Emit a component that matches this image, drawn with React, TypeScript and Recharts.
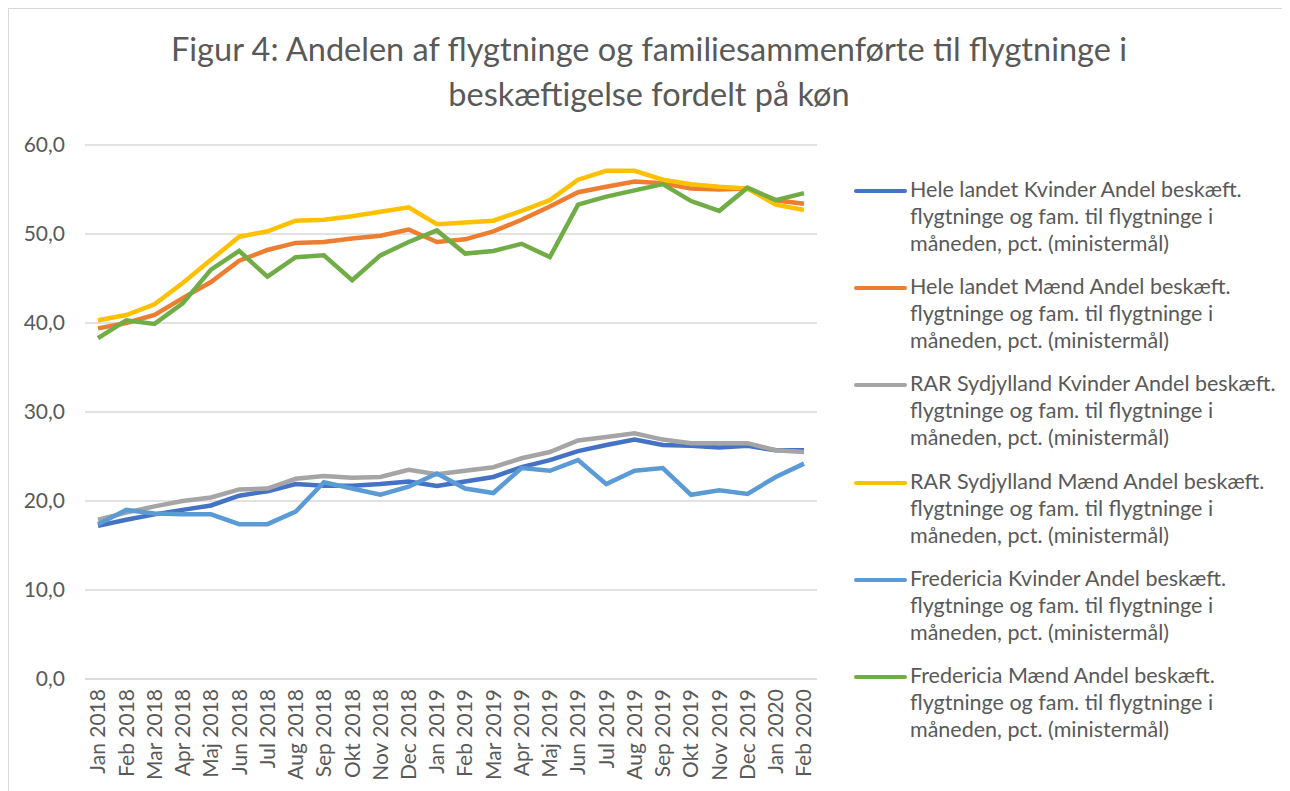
import React from 'react';
import { LineChart, Line, XAxis, YAxis, CartesianGrid, Legend } from 'recharts';

const months = [
  'Jan 2018', 'Feb 2018', 'Mar 2018', 'Apr 2018', 'Maj 2018', 'Jun 2018', 'Jul 2018', 'Aug 2018',
  'Sep 2018', 'Okt 2018', 'Nov 2018', 'Dec 2018', 'Jan 2019', 'Feb 2019', 'Mar 2019', 'Apr 2019',
  'Maj 2019', 'Jun 2019', 'Jul 2019', 'Aug 2019', 'Sep 2019', 'Okt 2019', 'Nov 2019', 'Dec 2019',
  'Jan 2020', 'Feb 2020',
];

const heleKvinder = [17.2, 17.9, 18.5, 19.0, 19.5, 20.6, 21.1, 21.9, 21.7, 21.7, 21.9, 22.2, 21.7, 22.2, 22.7, 23.8, 24.6, 25.6, 26.3, 26.9, 26.3, 26.2, 26.0, 26.2, 25.7, 25.7];
const heleMaend = [39.4, 40.0, 40.9, 42.8, 44.6, 47.0, 48.2, 49.0, 49.1, 49.5, 49.8, 50.5, 49.1, 49.4, 50.3, 51.6, 53.1, 54.7, 55.3, 55.9, 55.7, 55.1, 55.0, 55.1, 53.8, 53.4];
const rarKvinder = [17.9, 18.7, 19.4, 20.0, 20.4, 21.3, 21.4, 22.5, 22.8, 22.6, 22.7, 23.5, 23.0, 23.4, 23.8, 24.8, 25.5, 26.8, 27.2, 27.6, 26.9, 26.5, 26.5, 26.5, 25.7, 25.5];
const rarMaend = [40.3, 40.9, 42.1, 44.5, 47.1, 49.7, 50.3, 51.5, 51.6, 52.0, 52.5, 53.0, 51.1, 51.3, 51.5, 52.6, 53.8, 56.1, 57.1, 57.1, 56.1, 55.6, 55.3, 55.1, 53.3, 52.7];
const fredKvinder = [17.4, 19.0, 18.6, 18.5, 18.5, 17.4, 17.4, 18.8, 22.1, 21.4, 20.7, 21.6, 23.1, 21.4, 20.9, 23.7, 23.4, 24.6, 21.9, 23.4, 23.7, 20.7, 21.2, 20.8, 22.7, 24.2];
const fredMaend = [38.3, 40.3, 39.9, 42.2, 46.0, 48.1, 45.2, 47.4, 47.6, 44.8, 47.6, 49.1, 50.4, 47.8, 48.1, 48.9, 47.4, 53.3, 54.2, 54.9, 55.6, 53.7, 52.6, 55.2, 53.8, 54.6];

const yTicks = [0, 10, 20, 30, 40, 50, 60];

const seriesKeys = ['heleKvinder', 'heleMaend', 'rarKvinder', 'rarMaend', 'fredKvinder', 'fredMaend'];
const seriesColors = ['#4472C4', '#ED7D31', '#A5A5A5', '#FFC000', '#5B9BD5', '#70AD47'];
const seriesFirstLines = [
  'Hele landet Kvinder Andel beskæft.',
  'Hele landet Mænd Andel beskæft.',
  'RAR Sydjylland Kvinder Andel beskæft.',
  'RAR Sydjylland Mænd Andel beskæft.',
  'Fredericia Kvinder Andel beskæft.',
  'Fredericia Mænd Andel beskæft.',
];
const restLines = ['flygtninge og fam. til flygtninge i', 'måneden, pct. (ministermål)'];
const seriesValues = [heleKvinder, heleMaend, rarKvinder, rarMaend, fredKvinder, fredMaend];

const data = months.map((m, i) => {
  const row: Record<string, any> = { month: m };
  seriesKeys.forEach((k, s) => {
    row[k] = seriesValues[s][i];
  });
  return row;
});

const FONT = 'Lato, "Open Sans", sans-serif';
const TEXT = '#595959';

const XTick = (props: any) => {
  const { x, y, payload } = props;
  return (
    <text
      x={x}
      y={y}
      transform={`rotate(-90 ${x} ${y})`}
      textAnchor="end"
      dy="0.35em"
      fill={TEXT}
      fontSize={21}
      fontFamily={FONT}
    >
      {payload.value}
    </text>
  );
};

const renderLegend = () => (
  <div style={{ fontFamily: FONT, color: TEXT, fontSize: 21.5 }}>
    {seriesKeys.map((k, i) => (
      <div key={k} style={{ position: 'relative', height: 97.2 }}>
        <div
          style={{
            position: 'absolute',
            left: 0,
            top: 12,
            width: 53,
            height: 4,
            borderRadius: 2,
            background: seriesColors[i],
          }}
        />
        <div style={{ position: 'absolute', left: 56, top: -1, lineHeight: '27px', whiteSpace: 'nowrap' }}>
          <div>{seriesFirstLines[i]}</div>
          {restLines.map((l) => (
            <div key={l}>{l}</div>
          ))}
        </div>
      </div>
    ))}
  </div>
);

export default function App() {
  return (
    <div
      style={{
        position: 'relative',
        width: 1280,
        height: 800,
        border: '1px solid #d9d9d9',
        background: '#fff',
        boxSizing: 'border-box',
        fontFamily: FONT,
      }}
    >
      <div
        style={{
          position: 'absolute',
          left: 0,
          top: 17,
          width: 1280,
          textAlign: 'center',
          color: TEXT,
          fontSize: 32.5,
          lineHeight: '45px',
          fontFamily: FONT,
          boxSizing: 'border-box',
        }}
      >
        <div>Figur 4: Andelen af flygtninge og familiesammenførte til flygtninge i</div>
        <div>beskæftigelse fordelt på køn</div>
      </div>
      <LineChart
        width={1278}
        height={798}
        data={data}
        margin={{ top: 136, right: 470, bottom: 28, left: 0 }}
      >
        <CartesianGrid vertical={false} stroke="#d9d9d9" strokeWidth={1.5} />
        <XAxis
          dataKey="month"
          interval={0}
          height={100}
          padding={{ left: 13, right: 13 }}
          tick={<XTick />}
          tickLine={false}
          axisLine={{ stroke: '#d9d9d9', strokeWidth: 1.5 }}
          tickMargin={4}
        />
        <YAxis
          domain={[0, 60]}
          ticks={yTicks}
          width={76}
          axisLine={false}
          tickLine={false}
          tickMargin={14}
          tick={{ fill: TEXT, fontSize: 21, fontFamily: FONT }}
          tickFormatter={(v: number) => v.toFixed(1).replace('.', ',')}
        />
        <Legend
          content={renderLegend}
          layout="vertical"
          align="center"
          verticalAlign="middle"
          wrapperStyle={{ position: 'absolute', left: 845, top: 168, width: 420 }}
        />
        {seriesKeys.map((k, i) => (
          <Line
            key={k}
            type="linear"
            dataKey={k}
            name={seriesFirstLines[i]}
            stroke={seriesColors[i]}
            strokeWidth={4.5}
            dot={false}
            activeDot={false}
            isAnimationActive={false}
          />
        ))}
      </LineChart>
    </div>
  );
}
